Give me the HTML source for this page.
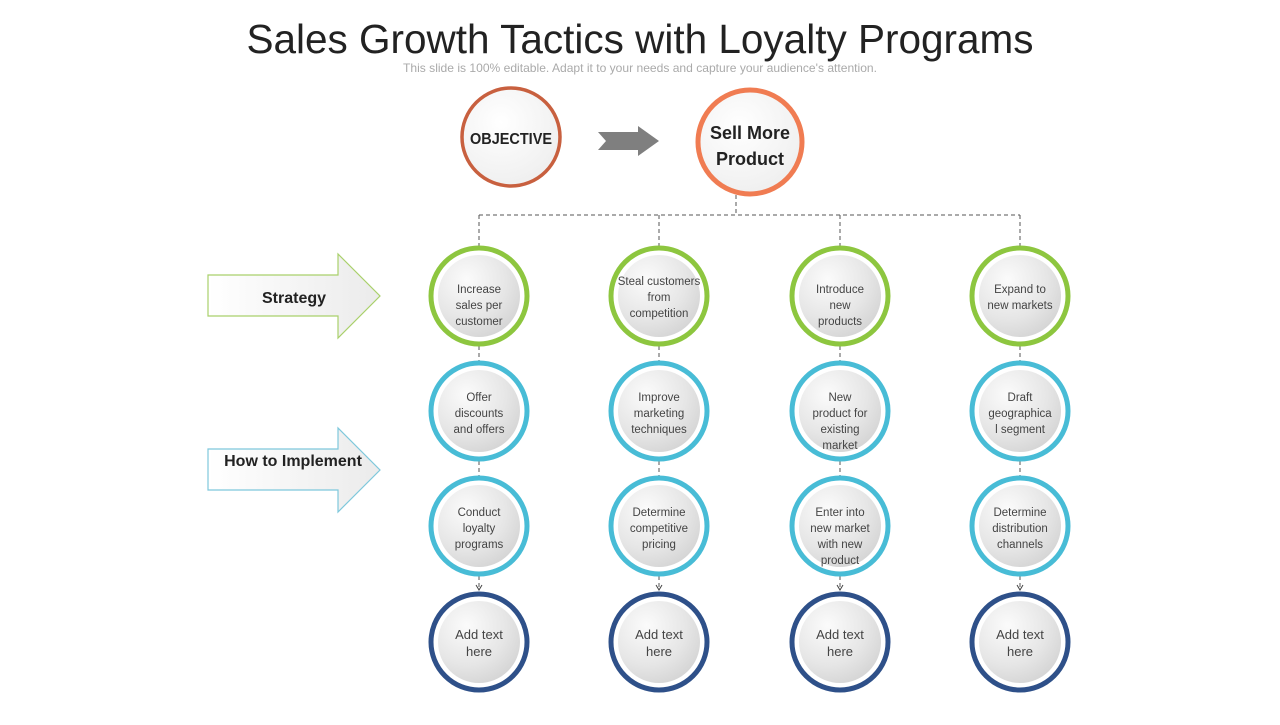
<!DOCTYPE html>
<html><head><meta charset="utf-8"><style>
body{margin:0;background:#fff;width:1280px;height:720px;overflow:hidden}
svg text{font-family:"Liberation Sans",sans-serif}
</style></head><body>
<svg width="1280" height="720" viewBox="0 0 1280 720" xmlns="http://www.w3.org/2000/svg">
<defs>
<radialGradient id="g" cx="0.35" cy="0.3" r="0.8"><stop offset="0" stop-color="#fbfbfb"/><stop offset="0.6" stop-color="#e6e6e6"/><stop offset="1" stop-color="#d2d2d2"/></radialGradient>
<radialGradient id="g2" cx="0.4" cy="0.35" r="0.8"><stop offset="0" stop-color="#ffffff"/><stop offset="1" stop-color="#ececec"/></radialGradient>
<linearGradient id="ag" x1="0" x2="1"><stop offset="0" stop-color="#fff"/><stop offset="1" stop-color="#ebebeb"/></linearGradient>
</defs>
<text x="640" y="53" text-anchor="middle" font-size="40.5" fill="#222">Sales Growth Tactics with Loyalty Programs</text>
<text x="640" y="72" text-anchor="middle" font-size="12" fill="#aaa" textLength="474" lengthAdjust="spacingAndGlyphs">This slide is 100% editable. Adapt it to your needs and capture your audience's attention.</text>

<circle cx="511" cy="137" r="49" fill="url(#g2)" stroke="#c8603f" stroke-width="3.5"/>
<text x="511" y="144" text-anchor="middle" font-size="16" font-weight="bold" fill="#222" textLength="82" lengthAdjust="spacingAndGlyphs">OBJECTIVE</text>
<polygon points="598,132 638,132 638,126 659,141 638,156 638,150 598,150 606,141" fill="#7f7f7f"/>
<circle cx="750" cy="142" r="52" fill="url(#g2)" stroke="#f07c52" stroke-width="5"/>
<text x="750" y="139" text-anchor="middle" font-size="18" font-weight="bold" fill="#222">Sell More</text>
<text x="750" y="165" text-anchor="middle" font-size="18" font-weight="bold" fill="#222">Product</text>

<g stroke="#555" stroke-width="1" stroke-dasharray="4,3" fill="none">
<path d="M736 195 V215 M479 215 H1020 M479 215 V246 M659 215 V246 M840 215 V246 M1020 215 V246"/>
<path d="M479 346 V361 M659 346 V361 M840 346 V361 M1020 346 V361 M479 461 V476 M659 461 V476 M840 461 V476 M1020 461 V476 M479 576 V590 M659 576 V590 M840 576 V590 M1020 576 V590"/>
</g>
<g fill="none" stroke="#444" stroke-width="1"><path d="M476 585 L479 590 L482 585 M656 585 L659 590 L662 585 M837 585 L840 590 L843 585 M1017 585 L1020 590 L1023 585"/></g>

<polygon points="208,275 338,275 338,254 380,296 338,338 338,316 208,316" fill="url(#ag)" stroke="#a9d06b" stroke-width="1.2"/>
<text x="294" y="303" text-anchor="middle" font-size="16" font-weight="bold" fill="#222">Strategy</text>
<polygon points="208,449 338,449 338,428 380,470 338,512 338,490 208,490" fill="url(#ag)" stroke="#7ec8dc" stroke-width="1.2"/>
<text x="293" y="466" text-anchor="middle" font-size="16" font-weight="bold" fill="#222">How to Implement</text>

<g font-size="11.5" fill="#444" text-anchor="middle">
<g stroke="#8dc63f" stroke-width="5"><circle cx="479" cy="296" r="48" fill="#fff"/><circle cx="659" cy="296" r="48" fill="#fff"/><circle cx="840" cy="296" r="48" fill="#fff"/><circle cx="1020" cy="296" r="48" fill="#fff"/></g>
<g stroke="#48bcd6" stroke-width="5"><circle cx="479" cy="411" r="48" fill="#fff"/><circle cx="659" cy="411" r="48" fill="#fff"/><circle cx="840" cy="411" r="48" fill="#fff"/><circle cx="1020" cy="411" r="48" fill="#fff"/>
<circle cx="479" cy="526" r="48" fill="#fff"/><circle cx="659" cy="526" r="48" fill="#fff"/><circle cx="840" cy="526" r="48" fill="#fff"/><circle cx="1020" cy="526" r="48" fill="#fff"/></g>
<g stroke="#2e5089" stroke-width="5"><circle cx="479" cy="642" r="48" fill="#fff"/><circle cx="659" cy="642" r="48" fill="#fff"/><circle cx="840" cy="642" r="48" fill="#fff"/><circle cx="1020" cy="642" r="48" fill="#fff"/></g>
<g fill="url(#g)">
<circle cx="479" cy="296" r="41"/><circle cx="659" cy="296" r="41"/><circle cx="840" cy="296" r="41"/><circle cx="1020" cy="296" r="41"/>
<circle cx="479" cy="411" r="41"/><circle cx="659" cy="411" r="41"/><circle cx="840" cy="411" r="41"/><circle cx="1020" cy="411" r="41"/>
<circle cx="479" cy="526" r="41"/><circle cx="659" cy="526" r="41"/><circle cx="840" cy="526" r="41"/><circle cx="1020" cy="526" r="41"/>
<circle cx="479" cy="642" r="41"/><circle cx="659" cy="642" r="41"/><circle cx="840" cy="642" r="41"/><circle cx="1020" cy="642" r="41"/>
</g>
<text x="479" y="293">Increase</text><text x="479" y="309">sales per</text><text x="479" y="325">customer</text>
<text x="659" y="285">Steal customers</text><text x="659" y="301">from</text><text x="659" y="317">competition</text>
<text x="840" y="293">Introduce</text><text x="840" y="309">new</text><text x="840" y="325">products</text>
<text x="1020" y="293">Expand to</text><text x="1020" y="309">new markets</text>

<text x="479" y="401">Offer</text><text x="479" y="417">discounts</text><text x="479" y="433">and offers</text>
<text x="659" y="401">Improve</text><text x="659" y="417">marketing</text><text x="659" y="433">techniques</text>
<text x="840" y="401">New</text><text x="840" y="417">product for</text><text x="840" y="433">existing</text><text x="840" y="449">market</text>
<text x="1020" y="401">Draft</text><text x="1020" y="417">geographica</text><text x="1020" y="433">l segment</text>

<text x="479" y="516">Conduct</text><text x="479" y="532">loyalty</text><text x="479" y="548">programs</text>
<text x="659" y="516">Determine</text><text x="659" y="532">competitive</text><text x="659" y="548">pricing</text>
<text x="840" y="516">Enter into</text><text x="840" y="532">new market</text><text x="840" y="548">with new</text><text x="840" y="564">product</text>
<text x="1020" y="516">Determine</text><text x="1020" y="532">distribution</text><text x="1020" y="548">channels</text>

<g font-size="13"><text x="479" y="639">Add text</text><text x="479" y="656">here</text>
<text x="659" y="639">Add text</text><text x="659" y="656">here</text>
<text x="840" y="639">Add text</text><text x="840" y="656">here</text>
<text x="1020" y="639">Add text</text><text x="1020" y="656">here</text></g>
</g>
</svg>
</body></html>
